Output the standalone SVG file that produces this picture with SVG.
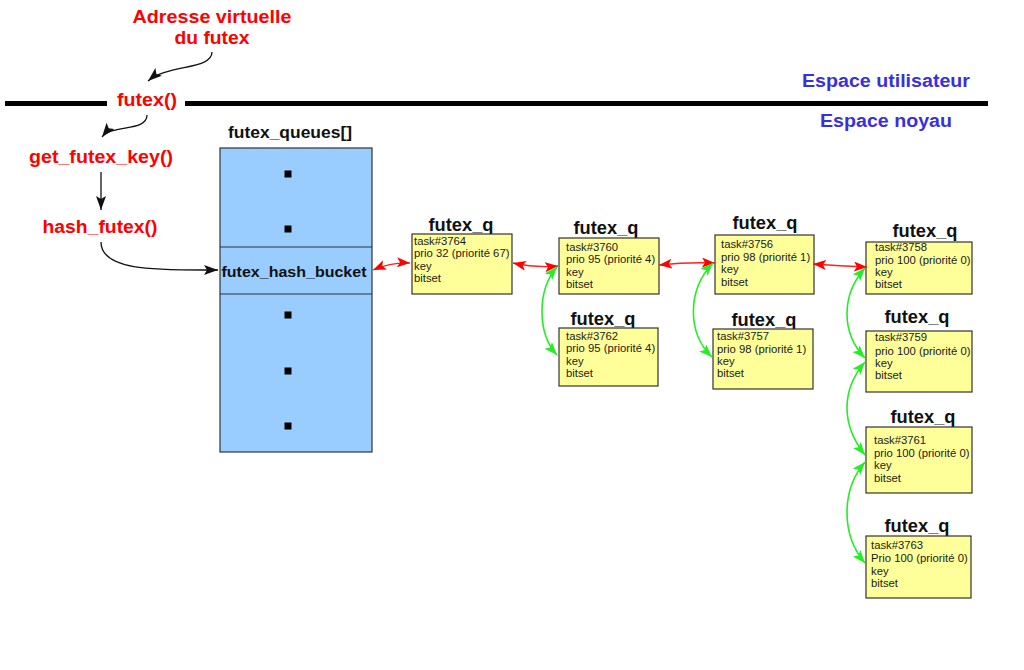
<svg xmlns="http://www.w3.org/2000/svg" width="1024" height="670" viewBox="0 0 1024 670">
<style>
.lbl{font-family:"Liberation Sans",Arial,sans-serif;font-weight:bold;fill:#ff0000;text-anchor:middle;font-size:18px}
.sp{font-family:"Liberation Sans",Arial,sans-serif;font-weight:bold;fill:#3a2fdd;text-anchor:middle;font-size:18px}
.ttl{font-family:"Liberation Sans",Arial,sans-serif;font-weight:bold;fill:#111;text-anchor:middle;font-size:19px}
.hb{font-family:"Liberation Sans",Arial,sans-serif;font-weight:bold;fill:#111;text-anchor:middle;font-size:15px}
.qt{font-family:"Liberation Sans",Arial,sans-serif;font-weight:bold;fill:#111;text-anchor:middle;font-size:16px}
.nt{font-family:"Liberation Sans",Arial,sans-serif;fill:#1a1a1a;font-size:11.3px}
.box{fill:#ffff99;stroke:#333;stroke-width:1.2}
.blue{fill:#99ccff;stroke:#333;stroke-width:1.2}
.blk{fill:none;stroke:#111;stroke-width:1.3}
.red{fill:none;stroke:#ff2020;stroke-width:1.3}
.grn{fill:none;stroke:#22ee22;stroke-width:1.6}
</style>
<defs>
<marker id="ab" markerUnits="userSpaceOnUse" markerWidth="16" markerHeight="12" refX="14" refY="5" orient="auto-start-reverse"><path d="M0,0 L14,5 L0,10 L3,5 z" fill="#111"/></marker>
<marker id="ar" markerUnits="userSpaceOnUse" markerWidth="15" markerHeight="12" refX="13" refY="5" orient="auto-start-reverse"><path d="M0,0 L13,5 L0,10 L3,5 z" fill="#ff0000"/></marker>
<marker id="ag" markerUnits="userSpaceOnUse" markerWidth="15" markerHeight="12" refX="13" refY="5" orient="auto-start-reverse"><path d="M0,0 L13,5 L0,10 L3,5 z" fill="#22ee22"/></marker>
</defs>
<rect width="1024" height="670" fill="#fff"/>

<g id="separator">
<line x1="5" y1="103.5" x2="107" y2="103.5" stroke="#000" stroke-width="5"/>
<line x1="185" y1="103.5" x2="988" y2="103.5" stroke="#000" stroke-width="5"/>
<text class="sp" x="886" y="87" textLength="168" lengthAdjust="spacingAndGlyphs">Espace utilisateur</text>
<text class="sp" x="886" y="127" textLength="132" lengthAdjust="spacingAndGlyphs">Espace noyau</text>
</g>

<g id="addr">
<text class="lbl" x="212" y="23" textLength="159" lengthAdjust="spacingAndGlyphs">Adresse virtuelle</text>
<text class="lbl" x="212" y="44" textLength="75" lengthAdjust="spacingAndGlyphs">du futex</text>
</g>
<g id="futex"><text class="lbl" x="147" y="106" textLength="60" lengthAdjust="spacingAndGlyphs">futex()</text></g>
<g id="get_futex_key"><text class="lbl" x="101" y="163" textLength="144" lengthAdjust="spacingAndGlyphs">get_futex_key()</text></g>
<g id="hash_futex"><text class="lbl" x="100" y="233" textLength="115" lengthAdjust="spacingAndGlyphs">hash_futex()</text></g>

<g id="futex_queues">
<text class="qt" x="290" y="138" textLength="124" lengthAdjust="spacingAndGlyphs">futex_queues[]</text>
<rect class="blue" x="220" y="148" width="152" height="304"/>
<line x1="220" y1="247" x2="372" y2="247" stroke="#333" stroke-width="1.2"/>
<line x1="220" y1="294" x2="372" y2="294" stroke="#333" stroke-width="1.2"/>
<text class="hb" x="294" y="277" textLength="145" lengthAdjust="spacingAndGlyphs">futex_hash_bucket</text>
<rect x="284.5" y="170.5" width="7" height="7" fill="#000"/>
<rect x="284.5" y="225.5" width="7" height="7" fill="#000"/>
<rect x="284.5" y="311.5" width="7" height="7" fill="#000"/>
<rect x="284.5" y="367.5" width="7" height="7" fill="#000"/>
<rect x="284.5" y="422.5" width="7" height="7" fill="#000"/>
</g>

<g id="q3764">
<text class="ttl" x="461" y="231" textLength="65" lengthAdjust="spacingAndGlyphs">futex_q</text>
<rect class="box" x="412" y="234" width="100" height="60"/>
<text class="nt" x="414" y="245">task#3764</text>
<text class="nt" x="414" y="257">prio 32 (priorité 67)</text>
<text class="nt" x="414" y="269.5">key</text>
<text class="nt" x="414" y="282">bitset</text>
</g>
<g id="q3760">
<text class="ttl" x="606" y="234" textLength="65" lengthAdjust="spacingAndGlyphs">futex_q</text>
<rect class="box" x="559" y="238" width="100" height="56"/>
<text class="nt" x="566" y="251">task#3760</text>
<text class="nt" x="566" y="263">prio 95 (priorité 4)</text>
<text class="nt" x="566" y="276">key</text>
<text class="nt" x="566" y="288">bitset</text>
</g>
<g id="q3762">
<text class="ttl" x="603" y="325" textLength="65" lengthAdjust="spacingAndGlyphs">futex_q</text>
<rect class="box" x="559" y="328" width="99" height="58"/>
<text class="nt" x="566" y="340">task#3762</text>
<text class="nt" x="566" y="352">prio 95 (priorité 4)</text>
<text class="nt" x="566" y="365">key</text>
<text class="nt" x="566" y="377">bitset</text>
</g>
<g id="q3756">
<text class="ttl" x="765" y="229" textLength="65" lengthAdjust="spacingAndGlyphs">futex_q</text>
<rect class="box" x="715" y="235" width="99" height="59"/>
<text class="nt" x="721" y="248">task#3756</text>
<text class="nt" x="721" y="260.5">prio 98 (priorité 1)</text>
<text class="nt" x="721" y="273">key</text>
<text class="nt" x="721" y="285.5">bitset</text>
</g>
<g id="q3757">
<text class="ttl" x="764" y="326" textLength="65" lengthAdjust="spacingAndGlyphs">futex_q</text>
<rect class="box" x="713" y="329" width="100" height="60"/>
<text class="nt" x="717" y="340">task#3757</text>
<text class="nt" x="717" y="353">prio 98 (priorité 1)</text>
<text class="nt" x="717" y="365">key</text>
<text class="nt" x="717" y="377">bitset</text>
</g>
<g id="q3758">
<text class="ttl" x="925" y="237" textLength="65" lengthAdjust="spacingAndGlyphs">futex_q</text>
<rect class="box" x="866" y="242" width="106" height="52"/>
<text class="nt" x="875" y="251">task#3758</text>
<text class="nt" x="875" y="264">prio 100 (priorité 0)</text>
<text class="nt" x="875" y="276">key</text>
<text class="nt" x="875" y="288">bitset</text>
</g>
<g id="q3759">
<text class="ttl" x="917" y="323" textLength="65" lengthAdjust="spacingAndGlyphs">futex_q</text>
<rect class="box" x="866" y="331" width="106" height="61"/>
<text class="nt" x="875" y="341">task#3759</text>
<text class="nt" x="875" y="355">prio 100 (priorité 0)</text>
<text class="nt" x="875" y="367">key</text>
<text class="nt" x="875" y="379">bitset</text>
</g>
<g id="q3761">
<text class="ttl" x="923" y="423" textLength="65" lengthAdjust="spacingAndGlyphs">futex_q</text>
<rect class="box" x="866" y="427" width="106" height="66"/>
<text class="nt" x="874" y="444">task#3761</text>
<text class="nt" x="874" y="457">prio 100 (priorité 0)</text>
<text class="nt" x="874" y="469">key</text>
<text class="nt" x="874" y="482">bitset</text>
</g>
<g id="q3763">
<text class="ttl" x="917" y="532" textLength="65" lengthAdjust="spacingAndGlyphs">futex_q</text>
<rect class="box" x="866" y="536" width="105" height="62"/>
<text class="nt" x="871" y="549">task#3763</text>
<text class="nt" x="871" y="562">Prio 100  (priorité 0)</text>
<text class="nt" x="871" y="575">key</text>
<text class="nt" x="871" y="587">bitset</text>
</g>

<g id="connectors">
<path class="blk" d="M212,52 C212,70 168,64 148,81" marker-end="url(#ab)"/>
<path class="blk" d="M147,115 C147,132 112,124 102,137" marker-end="url(#ab)"/>
<path class="blk" d="M101,172 L101,210" marker-end="url(#ab)"/>
<path class="blk" d="M101,242 C101,272 160,270 218,270" marker-end="url(#ab)"/>
<path class="red" d="M373,270 Q392,262 410,263" marker-start="url(#ar)" marker-end="url(#ar)"/>
<path class="red" d="M513,263 Q536,268 558,266" marker-start="url(#ar)" marker-end="url(#ar)"/>
<path class="red" d="M659,265 Q687,262 715,263" marker-start="url(#ar)" marker-end="url(#ar)"/>
<path class="red" d="M813,264 Q840,266 867,267" marker-start="url(#ar)" marker-end="url(#ar)"/>
<path class="grn" d="M557,267 C537,290 537,333 557,355" marker-start="url(#ag)" marker-end="url(#ag)"/>
<path class="grn" d="M713,263 C687,290 687,333 712,357" marker-start="url(#ag)" marker-end="url(#ag)"/>
<path class="grn" d="M865,268 C841,295 841,333 865,358" marker-start="url(#ag)" marker-end="url(#ag)"/>
<path class="grn" d="M865,362 C841,390 841,425 865,455" marker-start="url(#ag)" marker-end="url(#ag)"/>
<path class="grn" d="M865,462 C841,490 841,535 865,563" marker-start="url(#ag)" marker-end="url(#ag)"/>
</g>
</svg>
